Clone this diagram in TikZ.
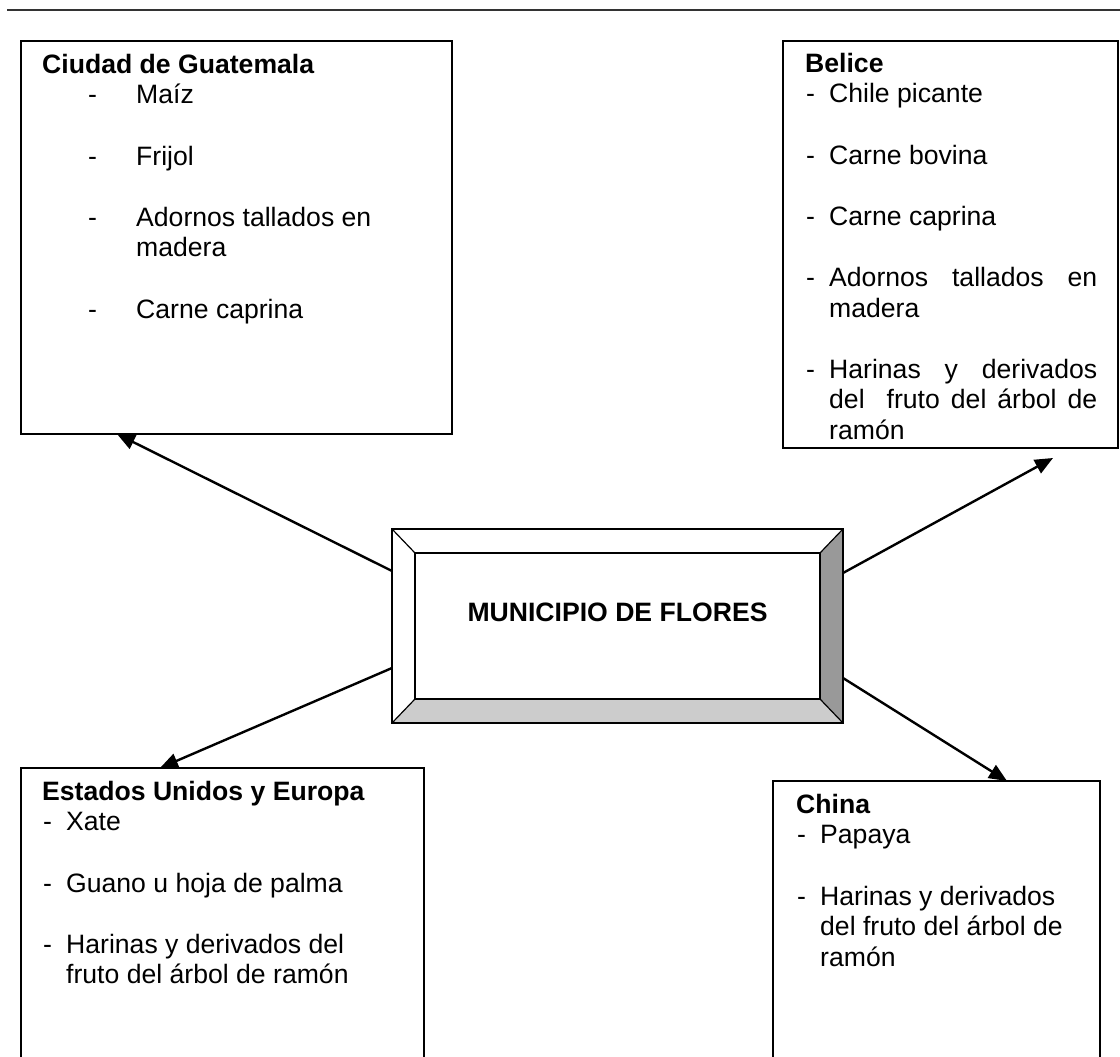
\documentclass[tikz,border=0pt]{standalone}
\usepackage{fontspec}
\setmainfont{Liberation Sans}
\usetikzlibrary{calc,arrows.meta,positioning}

\newcommand{\ditem}[3]{\hspace*{#1}\makebox[#2][l]{-}#3}
\newcommand{\dcont}[2]{\hspace*{#1}#2}

\begin{document}
\begin{tikzpicture}[x=1pt,y=-1pt,
	regbox/.style={draw,line width=1.6pt,outer sep=0pt,inner sep=0pt,anchor=north west},
	lista/.style={anchor=north west,align=left,inner sep=0pt,font={\fontsize{26.6}{30.6}\selectfont}},
	flecha/.style={line width=2.4pt,-{Triangle[length=18pt,width=15pt]}}]
	
	\useasboundingbox (0,0) rectangle (1120,1057);
	
	\draw[black!80,line width=2.5pt] (7,10) -- (1120,10);
	
	% cajas de destino
	\node[regbox,minimum width=431pt,minimum height=393pt] (guate) at (21,41) {};
	\node[regbox,minimum width=335pt,minimum height=407pt] (belice) at (783,41) {};
	\node[regbox,minimum width=403pt,minimum height=340pt] (eue) at (21,768) {};
	\node[regbox,minimum width=327pt,minimum height=330pt] (china) at (773,781) {};
	
	\node[lista] (guatelist) at (42,51) {\rule{0pt}{22pt}\textbf{Ciudad de Guatemala}\\
		\ditem{46pt}{48pt}{Maíz}\\[30.6pt]
		\ditem{46pt}{48pt}{Frijol}\\[30.6pt]
		\ditem{46pt}{48pt}{Adornos tallados en}\\
		\dcont{94pt}{madera}\\[30.6pt]
		\ditem{46pt}{48pt}{Carne caprina}};
	
	\node[lista] (belicelist) at (805,50) {\rule{0pt}{22pt}\textbf{Belice}\\
		\ditem{1pt}{23pt}{Chile picante}\\[30.6pt]
		\ditem{1pt}{23pt}{Carne bovina}\\[30.6pt]
		\ditem{1pt}{23pt}{Carne caprina}\\[30.6pt]
		\ditem{1pt}{23pt}{\makebox[268pt][s]{Adornos tallados en}}\\
		\dcont{24pt}{madera}\\[30.6pt]
		\ditem{1pt}{23pt}{\makebox[268pt][s]{Harinas y derivados}}\\
		\dcont{24pt}{\makebox[268pt][s]{del\ \ fruto del árbol de}}\\
		\dcont{24pt}{ramón}};
	
	\node[lista] (euelist) at (42,778) {\rule{0pt}{22pt}\textbf{Estados Unidos y Europa}\\
		\ditem{1pt}{23pt}{Xate}\\[30.6pt]
		\ditem{1pt}{23pt}{Guano u hoja de palma}\\[30.6pt]
		\ditem{1pt}{23pt}{Harinas y derivados del}\\
		\dcont{24pt}{fruto del árbol de ramón}};
	
	\node[lista] (chinalist) at (796,791) {\rule{0pt}{22pt}\textbf{China}\\
		\ditem{1pt}{23pt}{Papaya}\\[30.6pt]
		\ditem{1pt}{23pt}{Harinas y derivados}\\
		\dcont{24pt}{del fruto del árbol de}\\
		\dcont{24pt}{ramón}};
	
	% caja biselada del centro
	\node[fill=white,minimum width=451pt,minimum height=194pt,outer sep=0pt] (frame) at (617.5,626) {};
	\node[minimum width=405pt,minimum height=146pt,outer sep=0pt,inner sep=0pt] (flores) at (frame.center) {};
	\fill[black!40] (flores.north east) -- (frame.north east) -- (frame.south east) -- (flores.south east) -- cycle;
	\fill[black!20] (flores.south west) -- (flores.south east) -- (frame.south east) -- (frame.south west) -- cycle;
	\draw[line width=1.2pt] (frame.north west) rectangle (frame.south east);
	\foreach \c in {north west,north east,south west,south east}
		\draw[line width=1.2pt] (frame.\c) -- (flores.\c);
	\draw[line width=2pt] (flores.north west) rectangle (flores.south east);
	\node[font={\fontsize{26.6}{30.6}\selectfont\bfseries}] (fltext) at (617.5,612) {MUNICIPIO DE FLORES};
	
	% flechas
	\coordinate (gtip) at ($(guate.south west)+(96,0)$);
	\coordinate (btip) at ($(belice.south east)+(-65,10)$);
	\coordinate (etip) at ($(eue.north west)+(139,0)$);
	\coordinate (ctip) at ($(china.north west)+(234,0)$);
	
	\draw[flecha] ([yshift=55pt]frame.west) -- (gtip);
	\draw[flecha] ([yshift=53pt]frame.east) -- (btip);
	\draw[flecha] ([yshift=-42pt]frame.west) -- (etip);
	\draw[flecha] ([yshift=-52pt]frame.east) -- (ctip);
	
\end{tikzpicture}
\end{document}
